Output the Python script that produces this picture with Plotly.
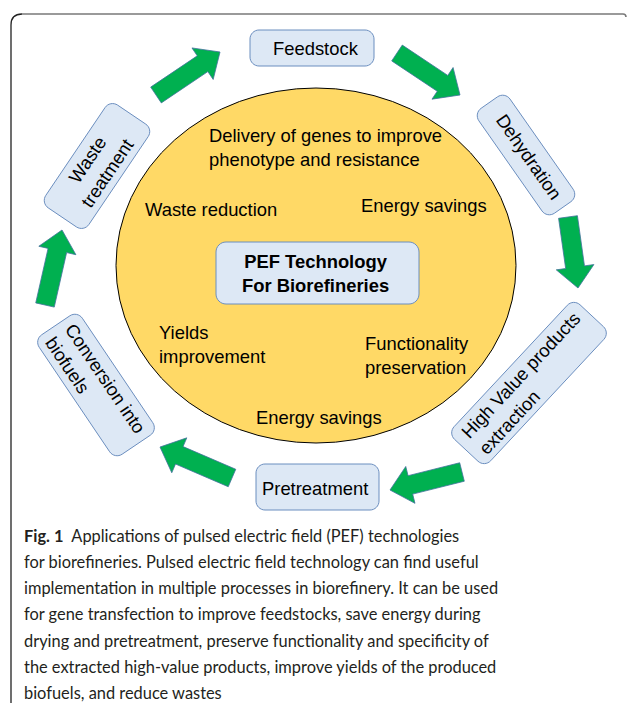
import math
import plotly.graph_objects as go

# ---- data (labels) ----
cycle_labels = ["Feedstock", "Dehydration", "High Value products<br>extraction",
                "Pretreatment", "Conversion into<br>biofuels", "Waste<br>treatment"]
center_label = "<b>PEF Technology<br>For Biorefineries</b>"
benefit_labels = ["Delivery of genes to improve<br>phenotype and resistance",
                  "Waste reduction", "Energy savings", "Yields<br>improvement",
                  "Functionality<br>preservation", "Energy savings"]
caption_lines = [
    "<b>Fig. 1</b>  Applications of pulsed electric field (PEF) technologies",
    "for biorefineries. Pulsed electric field technology can find useful",
    "implementation in multiple processes in biorefinery. It can be used",
    "for gene transfection to improve feedstocks, save energy during",
    "drying and pretreatment, preserve functionality and specificity of",
    "the extracted high-value products, improve yields of the produced",
    "biofuels, and reduce wastes",
]

# ---- layout geometry ----
W, H = 629, 706
BOX_FILL = "#DDE8F5"
BOX_LINE = "#6B8EBF"
GREEN = "#00B050"
ARROW_LINE = "#41719C"
FONT = "Liberation Sans, Arial, sans-serif"
FS = 18.4

def rrect_path(cx, cy, L, Wd, ang, r=9, n=8):
    pts = []
    hl, hw = L / 2, Wd / 2
    corners = [(hl - r, hw - r, 0), (-hl + r, hw - r, 90), (-hl + r, -hw + r, 180), (hl - r, -hw + r, 270)]
    for (ux, uy, a0) in corners:
        for k in range(n + 1):
            a = math.radians(a0 + 90 * k / n)
            pts.append((ux + r * math.cos(a), uy + r * math.sin(a)))
    t = math.radians(ang)
    out = []
    for (u, v) in pts:
        out.append((cx + u * math.cos(t) - v * math.sin(t), cy + u * math.sin(t) + v * math.cos(t)))
    return "M " + " L ".join(f"{x:.2f},{y:.2f}" for x, y in out) + " Z"

def arrow_path(T, P, sw=19, hw=38, hl=21):
    dx, dy = P[0] - T[0], P[1] - T[1]
    d = math.hypot(dx, dy)
    ux, uy = dx / d, dy / d
    nx, ny = -uy, ux
    B = (P[0] - ux * hl, P[1] - uy * hl)
    pts = [
        (T[0] + nx * sw / 2, T[1] + ny * sw / 2),
        (B[0] + nx * sw / 2, B[1] + ny * sw / 2),
        (B[0] + nx * hw / 2, B[1] + ny * hw / 2),
        P,
        (B[0] - nx * hw / 2, B[1] - ny * hw / 2),
        (B[0] - nx * sw / 2, B[1] - ny * sw / 2),
        (T[0] - nx * sw / 2, T[1] - ny * sw / 2),
    ]
    return "M " + " L ".join(f"{x:.2f},{y:.2f}" for x, y in pts) + " Z"

fig = go.Figure()
shapes = []
annotations = []

# frame
shapes.append(dict(type="path", path="M 11,703 L 11,25 Q 11,14 22,14", line=dict(color="#222222", width=1.3)))
shapes.append(dict(type="path", path="M 22,14 L 623,14 Q 626,14 626,17", line=dict(color="#7a7a7a", width=1.6)))

# ellipse
shapes.append(dict(type="circle", x0=116, x1=516, y0=88, y1=443, fillcolor="#FFD966",
                   line=dict(color="#000000", width=1)))

# center box
shapes.append(dict(type="path", path=rrect_path(317.5, 273, 203, 62, 0, r=10),
                   fillcolor=BOX_FILL, line=dict(color=BOX_LINE, width=1)))
annotations.append(dict(x=315, y=273, text=center_label, showarrow=False,
                        font=dict(size=FS, family=FONT, color="#000")))

# cycle boxes: center, length, width, angle, text center, textangle, align
boxes = [
    ((312, 48), 124, 36, 0, (316, 48), 0, "center"),
    ((526, 155), 128, 38, 55, (529, 156), 55, "center"),
    ((529, 383), 184, 50, -47, (529, 383), -47, "left"),
    ((317.5, 487), 123, 46, 0, (314.5, 488), 0, "center"),
    ((96, 385), 144, 52, 56, (96, 385), 56, "left"),
    ((97, 166), 124, 52, -56, (97, 166), -56, "center"),
]
for lab, (c, L, Wd, ang, tc, ta, al) in zip(cycle_labels, boxes):
    shapes.append(dict(type="path", path=rrect_path(c[0], c[1], L, Wd, ang, r=9),
                       fillcolor=BOX_FILL, line=dict(color=BOX_LINE, width=1)))
    annotations.append(dict(x=tc[0], y=tc[1], text=lab, showarrow=False, textangle=ta, align=al,
                            font=dict(size=FS, family=FONT, color="#000")))

# arrows (tail, tip)
arrows = [((156, 95), (220, 52)), ((397, 53), (460, 95)), ((568, 217), (578, 288)),
          ((462, 472), (390, 490)), ((232, 478), (160, 447)), ((45, 305), (62, 230))]
for T, P in arrows:
    shapes.append(dict(type="path", path=arrow_path(T, P), fillcolor=GREEN,
                       line=dict(color=ARROW_LINE, width=0.8)))

# benefit texts: (x left, y center)
bpos = [(207, 147), (143, 209), (359, 205), (157, 344), (363, 355), (254, 417)]
for lab, (x, y) in zip(benefit_labels, bpos):
    annotations.append(dict(x=x, y=y, text=lab, showarrow=False, xanchor="left", yanchor="middle",
                            align="left", font=dict(size=FS, family=FONT, color="#000")))

# caption
for i, line in enumerate(caption_lines):
    annotations.append(dict(x=22, y=535 + i * 26.3, text=line, showarrow=False, xanchor="left",
                            yanchor="middle", align="left",
                            font=dict(size=16.4, family="Lato, sans-serif", color="#231F20")))

fig.update_layout(
    width=W, height=H, margin=dict(l=0, r=0, t=0, b=0),
    paper_bgcolor="white", plot_bgcolor="white",
    xaxis=dict(range=[0, W], visible=False, fixedrange=True),
    yaxis=dict(range=[H, 0], visible=False, fixedrange=True),
    shapes=shapes, annotations=annotations, showlegend=False,
)
fig.write_html("out.html", config={"displayModeBar": False},
               post_script="document.body.style.margin='0';document.body.style.overflow='hidden';")
